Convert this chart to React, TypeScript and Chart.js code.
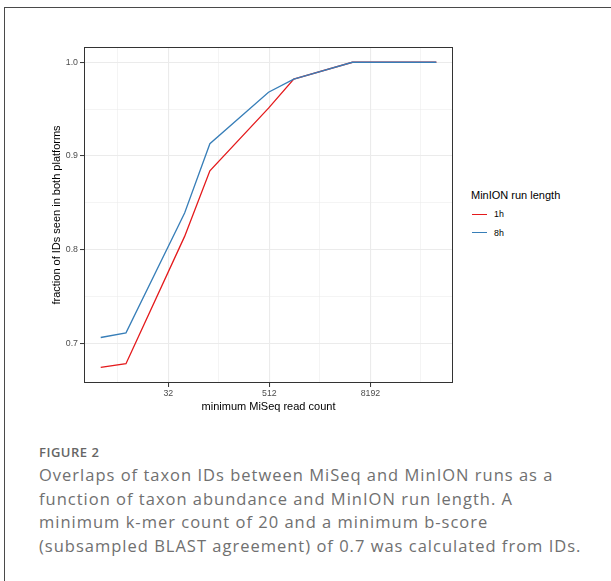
import React, { useEffect, useRef } from "react";
import { Chart, registerables } from "chart.js";

Chart.register(...registerables);

// ---- data ----
const xValues = [5, 10, 50, 100, 500, 1000, 5000, 50000];
const series1h = [0.674, 0.678, 0.814, 0.884, 0.951, 0.982, 1.0, 1.0];
const series8h = [0.706, 0.711, 0.839, 0.913, 0.968, 0.982, 1.0, 1.0];
const seriesNames = ["1h", "8h"];
const seriesColors = ["#E41A1C", "#377EB8"];
const xMajorTicks = [32, 512, 8192];
const xMinorTicks = [8, 128, 2048, 32768];
const yMajorTicks = [0.7, 0.8, 0.9, 1.0];
const yMinorTicks = [0.75, 0.85, 0.95];
const xTitle = "minimum MiSeq read count";
const yTitle = "fraction of IDs seen in both platforms";
const legendTitle = "MinION run length";
const figureLabel = "FIGURE 2";
const captionLines = [
  "Overlaps of taxon IDs between MiSeq and MinION runs as a",
  "function of taxon abundance and MinION run length. A",
  "minimum k-mer count of 20 and a minimum b-score",
  "(subsampled BLAST agreement) of 0.7 was calculated from IDs.",
];

const sansFont = "'Liberation Sans', Arial, Helvetica, sans-serif";
const captionFont = "'Open Sans', 'Noto Sans', sans-serif";

const isMajorX = (v: number) => xMajorTicks.some((t) => Math.abs(t - v) < 1e-6);
const isMajorY = (v: number) => yMajorTicks.some((t) => Math.abs(t - v) < 1e-6);

const panelBorder = {
  id: "panelBorder",
  afterDatasetsDraw(chart: any) {
    const { ctx, chartArea } = chart;
    const { left, top, right, bottom } = chartArea;
    ctx.save();
    ctx.strokeStyle = "#333333";
    ctx.lineWidth = 1;
    ctx.strokeRect(
      Math.round(left) + 0.5,
      Math.round(top) + 0.5,
      Math.round(right - left) - 1,
      Math.round(bottom - top) - 1
    );
    ctx.restore();
  },
};

function ChartCanvas() {
  const ref = useRef<HTMLCanvasElement | null>(null);
  useEffect(() => {
    if (!ref.current) return;
    const seriesData = [series1h, series8h];
    const chart = new Chart(ref.current, {
      type: "line",
      data: {
        datasets: seriesNames.map((name, i) => ({
          label: name,
          data: xValues.map((x, j) => ({ x, y: seriesData[i][j] })),
          borderColor: seriesColors[i],
          backgroundColor: seriesColors[i],
          borderWidth: 1.3,
          pointRadius: 0,
          tension: 0,
          fill: false,
          order: seriesNames.length - i,
        })),
      },
      options: {
        responsive: false,
        animation: false,
        devicePixelRatio: 1,
        layout: { padding: { left: 0, top: 47, right: 7, bottom: 0 } },
        plugins: {
          legend: { display: false },
          tooltip: { enabled: false },
        },
        scales: {
          x: {
            type: "logarithmic",
            min: 3.16,
            max: 79000,
            afterBuildTicks: (s: any) => {
              s.ticks = [...xMinorTicks, ...xMajorTicks]
                .sort((a, b) => a - b)
                .map((v) => ({ value: v }));
            },
            afterFit: (s: any) => {
              s.height = 47;
            },
            border: { display: false },
            grid: {
              color: "#EBEBEB",
              lineWidth: (c: any) => (c.tick && isMajorX(c.tick.value) ? 1.1 : 0.55),
              tickColor: (c: any) =>
                c.tick && isMajorX(c.tick.value) ? "#333333" : "rgba(0,0,0,0)",
              tickLength: 4,
              tickWidth: 1,
            },
            ticks: {
              autoSkip: false,
              maxRotation: 0,
              minRotation: 0,
              padding: 1,
              color: "#4D4D4D",
              font: { family: sansFont, size: 8.8 },
              callback: (v: any) => (isMajorX(Number(v)) ? String(v) : ""),
            },
            title: {
              display: true,
              text: xTitle,
              color: "#000000",
              font: { family: sansFont, size: 11 },
              padding: { top: 0, bottom: 16 },
            },
          },
          y: {
            type: "linear",
            min: 0.6574,
            max: 1.0163,
            afterBuildTicks: (s: any) => {
              s.ticks = [...yMajorTicks, ...yMinorTicks]
                .sort((a, b) => a - b)
                .map((v) => ({ value: v }));
            },
            afterFit: (s: any) => {
              s.width = 84;
            },
            border: { display: false },
            grid: {
              color: "#EBEBEB",
              lineWidth: (c: any) => (c.tick && isMajorY(c.tick.value) ? 1.1 : 0.55),
              tickColor: (c: any) =>
                c.tick && isMajorY(c.tick.value) ? "#333333" : "rgba(0,0,0,0)",
              tickLength: 4,
              tickWidth: 1,
            },
            ticks: {
              autoSkip: false,
              padding: 2,
              color: "#4D4D4D",
              font: { family: sansFont, size: 8.8 },
              callback: (v: any) => (isMajorY(Number(v)) ? Number(v).toFixed(1) : ""),
            },
            title: {
              display: true,
              text: yTitle,
              color: "#000000",
              font: { family: sansFont, size: 11 },
              padding: { top: 50, bottom: 0 },
            },
          },
        },
      },
      plugins: [panelBorder],
    } as any);
    return () => chart.destroy();
  }, []);
  return (
    <canvas
      ref={ref}
      width={460}
      height={430}
      style={{ position: "absolute", left: 0, top: 0, width: 460, height: 430, display: "block" }}
    />
  );
}

export default function App() {
  const legendRows = [214.3, 232.7];
  return (
    <div
      style={{
        position: "absolute",
        left: 0,
        top: 0,
        width: 611,
        height: 581,
        overflow: "hidden",
        background: "#ffffff",
      }}
    >
      <div
        style={{
          position: "absolute",
          left: 4,
          top: 7,
          width: 800,
          height: 800,
          borderTop: "1px solid #4a4a4a",
          borderLeft: "1px solid #4a4a4a",
        }}
      />
      <ChartCanvas />
      {/* legend */}
      <div
        style={{
          position: "absolute",
          left: 471,
          top: 188,
          fontFamily: sansFont,
          fontSize: 11,
          lineHeight: "14px",
          color: "#000",
          whiteSpace: "nowrap",
        }}
      >
        {legendTitle}
      </div>
      {seriesNames.map((name, i) => (
        <React.Fragment key={name}>
          <div
            style={{
              position: "absolute",
              left: 472,
              top: legendRows[i] - 0.7,
              width: 15,
              height: 1.4,
              background: seriesColors[i],
            }}
          />
          <div
            style={{
              position: "absolute",
              left: 494,
              top: legendRows[i] - 6,
              fontFamily: sansFont,
              fontSize: 8.8,
              lineHeight: "12px",
              color: "#000",
            }}
          >
            {name}
          </div>
        </React.Fragment>
      ))}
      {/* caption */}
      <div
        style={{
          position: "absolute",
          left: 39,
          top: 443,
          fontFamily: captionFont,
          fontSize: 13,
          fontWeight: 600,
          lineHeight: "18px",
          letterSpacing: "0.5px",
          color: "#666666",
          whiteSpace: "nowrap",
        }}
      >
        {figureLabel}
      </div>
      {captionLines.map((line, i) => (
        <div
          key={i}
          style={{
            position: "absolute",
            left: 39,
            top: 475 + i * 23.5 - 12,
            fontFamily: captionFont,
            fontSize: 16.5,
            lineHeight: "24px",
            letterSpacing: "1px",
            color: "#707070",
            whiteSpace: "nowrap",
          }}
        >
          {line}
        </div>
      ))}
    </div>
  );
}
